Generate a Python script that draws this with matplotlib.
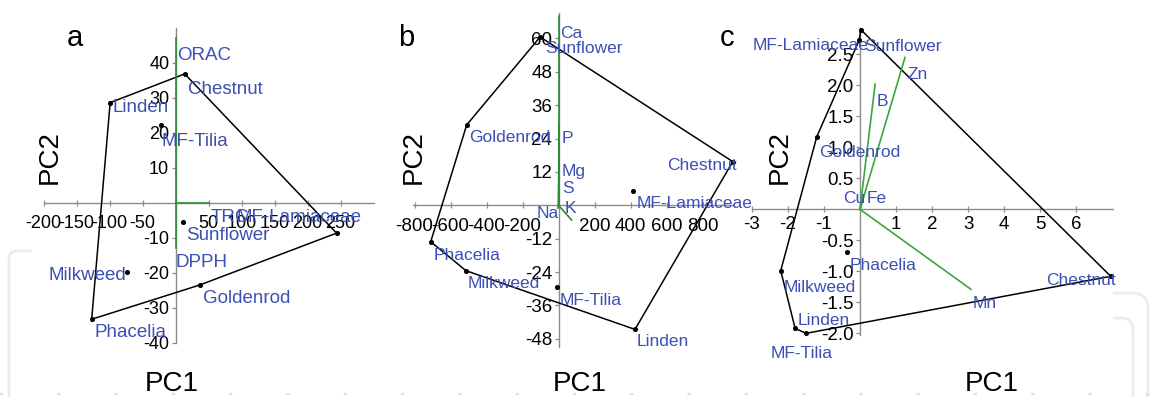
import matplotlib.pyplot as plt
from matplotlib.patches import FancyBboxPatch, Rectangle
from matplotlib.lines import Line2D

plt.rcParams['font.family'] = ['Liberation Sans', 'DejaVu Sans']
plt.rcParams['axes.unicode_minus'] = False

# --- a: antioxidant activity ---
a_names = ["Chestnut", "Linden", "MF-Tilia", "Sunflower", "MF-Lamiaceae",
           "Milkweed", "Goldenrod", "Phacelia"]
a_pc1 = [14, -99, -22, 12, 244, -74, 37, -127]
a_pc2 = [36.8, 28.6, 22.2, -5.6, -8.7, -19.7, -23.5, -33.3]
a_hull = ["Linden", "Chestnut", "MF-Lamiaceae", "Goldenrod", "Phacelia"]
a_vars = ["ORAC", "TRC", "DPPH"]
a_load1 = [0, 50, 0]
a_load2 = [47, 0, -13]
a_xticks = [-200, -150, -100, -50, 50, 100, 150, 200, 250]
a_yticks = [-40, -30, -20, -10, 10, 20, 30, 40]

# --- b: macro elements ---
b_names = ["Sunflower", "Goldenrod", "Chestnut", "MF-Lamiaceae", "Phacelia",
           "Milkweed", "MF-Tilia", "Linden"]
b_pc1 = [-102, -510, 968, 416, -710, -514, -10, 425]
b_pc2 = [60.5, 28.9, 15.7, 5.1, -13.1, -23.5, -29.5, -44.6]
b_hull = ["Sunflower", "Chestnut", "Linden", "Milkweed", "Phacelia", "Goldenrod"]
b_vars = ["Ca", "P", "Mg", "S", "K", "Na"]
b_load1 = [0, 0, 2, 2, 73, -4]
b_load2 = [68, 29, 17, 11, -5.3, -1]
b_xticks = [-800, -600, -400, -200, 200, 400, 600, 800]
b_yticks = [-48, -36, -24, -12, 12, 24, 36, 48, 60]

# --- c: trace elements ---
c_names = ["Sunflower", "MF-Lamiaceae", "Goldenrod", "Milkweed", "Linden",
           "MF-Tilia", "Phacelia", "Chestnut"]
c_pc1 = [0.02, -0.02, -1.20, -2.20, -1.80, -1.50, -0.37, 6.96]
c_pc2 = [2.90, 2.73, 1.17, -0.99, -1.92, -2.00, -0.69, -1.08]
c_hull = ["Sunflower", "Chestnut", "MF-Tilia", "Linden", "Milkweed",
          "Goldenrod", "MF-Lamiaceae"]
c_vars = ["B", "Zn", "Mn", "Cu", "Fe"]
c_load1 = [0.42, 1.25, 3.08, 0.05, 0.10]
c_load2 = [2.02, 2.45, -1.29, 0.15, 0.20]
c_xticks = [-3, -2, -1, 1, 2, 3, 4, 5, 6]
c_yticks = [-2.0, -1.5, -1.0, -0.5, 0.5, 1.0, 1.5, 2.0, 2.5]

BLUE = '#3c4fb4'
GRAY = '#8c8c8c'
FAINT = '#ececec'
W, H = 1150, 397

# label offsets in pixels (baseline-left of text relative to the point)
DEFAULT_OFF = (3, -18)
a_off = {"Chestnut": (3, -20), "Linden": (2, -9), "MF-Tilia": (1, -21),
         "MF-Lamiaceae": (-100, 11), "Milkweed": (-78, -8),
         "ORAC": (2, -22), "TRC": (2, -19), "DPPH": (0, -19)}
b_off = {"Sunflower": (5, -16), "Goldenrod": (2, -17), "Chestnut": (-66, -8),
         "MF-Lamiaceae": (3, -17), "Milkweed": (2, -17), "Linden": (2, -17),
         "Ca": (2, -22), "K": (-7, 7), "Na": (-21, -10)}
c_off = {"Sunflower": (3, -21), "MF-Lamiaceae": (-107, -10),
         "Goldenrod": (2, -20), "Milkweed": (3, -21), "Linden": (2, 3),
         "MF-Tilia": (-35, -25), "Chestnut": (-65, -9),
         "B": (2, -22), "Zn": (2, -22), "Mn": (2, -19),
         "Cu": (-19, -3), "Fe": (3, -6)}

fig = plt.figure(figsize=(W / 100, H / 100), dpi=100)


def fx(x):
    return x / W


def fy(y):
    return 1 - y / H


# faint page decoration behind the figure (drawn in inches, 100 px each)
deco = [(9, 90, 251, 0.08), (1070, 1148, 293, 0.16), (1070, 1133, 318, 0.12)]
for x0, x1, y0, r in deco:
    fig.add_artist(FancyBboxPatch((x0 / 100, -1.0), (x1 - x0) / 100,
                                  (H - y0) / 100 + 1.0,
                                  boxstyle=f'round,pad=0,rounding_size={r}',
                                  transform=fig.dpi_scale_trans, fc='none',
                                  ec=FAINT, lw=2, zorder=-3))
fig.add_artist(Rectangle((fx(32), 0), fx(1113 - 32), 1, transform=fig.transFigure,
                         fc='white', ec='none', zorder=-2))
fig.add_artist(Line2D([0, 1], [fy(394), fy(394)], transform=fig.transFigure,
                      color='#dddddd', lw=1.5, dashes=(1.5, 26), zorder=-1))


def px_axes(x0, x1, y0, y1):
    return fig.add_axes([fx(x0), fy(y1), (x1 - x0) / W, (y1 - y0) / H])


def biplot(ax, names, pc1, pc2, hull, vars_, l1, l2, offs,
           xlim, ylim, xticks, yticks, fmt, xpad, tsize, lsize, green):
    ax.set_xlim(*xlim)
    ax.set_ylim(*ylim)
    ax.patch.set_alpha(0)
    for side in ('top', 'right'):
        ax.spines[side].set_visible(False)
    for side in ('left', 'bottom'):
        ax.spines[side].set_position(('data', 0))
        ax.spines[side].set_color(GRAY)
        ax.spines[side].set_linewidth(1.0)
    ax.set_xticks(xticks, [fmt(v) for v in xticks])
    ax.set_yticks(yticks, [fmt(v) for v in yticks])
    ax.tick_params(axis='x', direction='inout', length=5, width=0.9,
                   color=GRAY, labelsize=tsize, pad=xpad)
    ax.tick_params(axis='y', direction='out', length=3, width=0.9,
                   color=GRAY, labelsize=tsize, pad=1.5)

    pos = dict(zip(names, zip(pc1, pc2)))
    ring = hull + hull[:1]
    ax.plot([pos[n][0] for n in ring], [pos[n][1] for n in ring],
            color='black', lw=1.1, zorder=3, clip_on=False)
    ax.scatter(pc1, pc2, s=7, color='black', zorder=4, clip_on=False)

    for v, x, y in zip(vars_, l1, l2):
        ax.plot([0, x], [0, y], color=green, lw=1.2, zorder=3.5,
                clip_on=False)

    for n, x, y in list(zip(names, pc1, pc2)) + list(zip(vars_, l1, l2)):
        ax.annotate(n, (x, y), xytext=offs.get(n, DEFAULT_OFF),
                    textcoords='offset pixels', ha='left', va='baseline',
                    fontsize=lsize, color=BLUE, zorder=5)


ax_a = px_axes(43.5, 373.5, 27.7, 342.7)
biplot(ax_a, a_names, a_pc1, a_pc2, a_hull, a_vars, a_load1, a_load2, a_off,
       (-200, 300), (-40, 50), a_xticks, a_yticks, lambda v: f"{v:d}", 6.5,
       13, 13.5, '#2d8a35')

ax_b = px_axes(412.7, 734.0, 13.3, 347.2)
biplot(ax_b, b_names, b_pc1, b_pc2, b_hull, b_vars, b_load1, b_load2, b_off,
       (-810, 975), (-51, 69), b_xticks, b_yticks, lambda v: f"{v:d}", 6.5,
       13.5, 12.5, '#2d8a35')

ax_c = px_axes(751.9, 1112.9, 28.3, 335.2)
biplot(ax_c, c_names, c_pc1, c_pc2, c_hull, c_vars, c_load1, c_load2, c_off,
       (-3, 7.02), (-2.03, 2.92), c_xticks, c_yticks,
       lambda v: f"{v:d}" if isinstance(v, int) else f"{v:.1f}", 2,
       13.5, 12.5, '#36a83f')

# panel letters and axis titles
for letter, x in zip("abc", [75, 406, 727]):
    fig.text(fx(x), fy(38), letter, fontsize=21, ha='center', va='center')
for x in [172, 580, 992]:
    fig.text(fx(x), fy(384), "PC1", fontsize=20, ha='center', va='center')
for x in [50, 414, 780]:
    fig.text(fx(x), fy(157), "PC2", fontsize=20, ha='center',
             va='center', rotation=90)

fig.savefig("out.png", dpi=100)
